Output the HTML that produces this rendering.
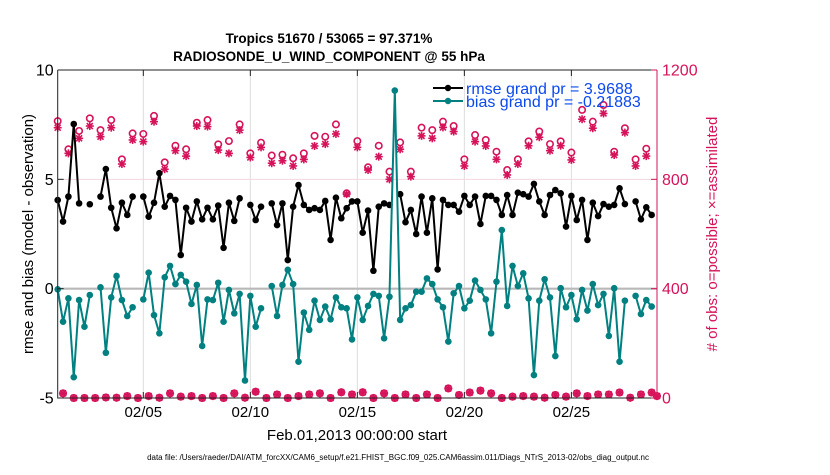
<!DOCTYPE html>
<html><head><meta charset="utf-8"><style>
body{margin:0;background:#fff;}
svg text{font-family:"Liberation Sans",Arial,sans-serif;}
</style></head><body>
<svg id="chart" width="830" height="470" viewBox="0 0 830 470" xmlns="http://www.w3.org/2000/svg">
<g id="grid"></g>
<g id="marks"></g>
<g id="axes"></g>
<text x="329" y="43" text-anchor="middle" font-size="13.5" font-weight="bold">Tropics 51670 / 53065 = 97.371%</text>
<text x="329" y="61" text-anchor="middle" font-size="13.5" font-weight="bold">RADIOSONDE_U_WIND_COMPONENT @ 55 hPa</text>
<text transform="translate(33,234) rotate(-90)" text-anchor="middle" font-size="15">rmse and bias (model - observation)</text>
<text transform="translate(717,234) rotate(-90)" text-anchor="middle" font-size="15" fill="#d6135a"># of obs: o=possible; ×=assimilated</text>
<text x="357" y="440" text-anchor="middle" font-size="15">Feb.01,2013 00:00:00 start</text>
<text x="398" y="460" text-anchor="middle" font-size="8">data file: /Users/raeder/DAI/ATM_forcXX/CAM6_setup/f.e21.FHIST_BGC.f09_025.CAM6assim.011/Diags_NTrS_2013-02/obs_diag_output.nc</text>
<g>
<line x1="433" y1="88" x2="463" y2="88" stroke="#000" stroke-width="2"/>
<circle cx="448" cy="88" r="3.2" fill="#000"/>
<text x="466" y="94" font-size="16" fill="#0a48f0">rmse grand pr = 3.9688</text>
<line x1="433" y1="101" x2="463" y2="101" stroke="#008080" stroke-width="2"/>
<circle cx="448" cy="101" r="3.2" fill="#008080"/>
<text x="466" y="107" font-size="16" fill="#0a48f0">bias grand pr = -0.21883</text>
</g>
</svg>
<script>
const rmse = [4.05,3.07,4.21,7.53,3.90,null,3.86,null,4.21,5.47,3.70,2.76,3.93,3.37,4.21,null,4.21,3.29,3.93,5.28,3.75,4.24,4.06,1.54,3.70,3.07,3.99,3.17,3.70,3.17,3.80,1.87,3.93,3.10,4.13,null,3.83,3.14,
3.75,null,3.90,2.91,3.90,1.31,3.75,4.74,3.83,3.60,3.68,3.60,4.01,2.23,4.16,3.22,3.68,3.99,3.99,2.56,3.57,0.82,3.75,3.90,3.83,null,4.32,3.04,3.60,2.50,4.21,2.56,4.13,0.88,4.06,3.83,3.83,3.52,
4.24,3.83,4.21,2.96,4.24,4.24,4.06,3.37,4.28,3.37,4.39,4.32,4.21,4.79,3.99,3.37,4.28,4.51,4.36,2.84,4.24,3.14,4.06,2.23,3.93,3.32,3.87,3.75,3.83,4.59,3.87,null,3.99,3.17,3.72,3.37];
const bias = [-0.03,-1.51,-0.44,-4.05,-0.52,-1.74,-0.29,null,0.06,-2.93,-0.40,0.58,-0.52,-1.25,-0.85,null,-0.49,0.73,-1.21,-2.04,0.52,1.04,0.21,0.63,0.32,-0.70,0.17,-2.62,-0.49,-0.52,0.27,-1.51,-0.06,-1.13,-0.24,-4.20,-0.33,-1.74,
-0.90,null,0.12,-1.25,0.17,0.86,0.21,-3.34,-1.09,-1.88,-0.55,-1.43,-0.82,-1.40,-0.40,-0.85,-0.90,-2.32,-0.40,-1.43,-0.79,-0.24,-0.33,-2.27,-0.37,9.06,-1.43,-0.90,-0.75,-0.14,-0.14,0.47,0.21,-0.49,-0.85,-2.42,-0.21,0.12,
-0.90,-0.55,0.37,-0.06,-0.49,-2.04,0.32,2.68,-0.79,1.04,0.12,0.70,-0.44,-3.95,-0.55,0.43,-0.40,-3.08,0.02,-0.85,-0.29,-1.40,-0.06,-1.00,0.21,-0.75,-0.24,-2.16,0.02,-3.34,-0.55,null,-0.33,-1.16,-0.52,-0.82];
const possible = [1013,17,910,0,977,0,1023,0,980,2,1017,1,873,7,968,0,966,7,1032,1,862,17,923,5,910,7,1007,0,1017,7,928,0,940,17,1001,1,895,23,934,0,887,13,890,0,877,7,895,13,959,17,956,0,1001,21,749,13,940,21,844,0,923,17,828,0,935,13,828,0,989,13,980,0,1011,35,995,11,873,20,962,27,944,17,901,0,834,5,873,7,939,5,975,1,929,11,939,5,898,17,1054,7,1011,13,1072,13,901,20,987,1,873,13,912,20,7];
const assimilated = [989,17,895,0,950,0,995,0,956,2,989,1,856,7,944,0,938,7,1011,1,837,17,905,5,885,7,995,0,993,7,907,0,895,17,980,1,880,23,917,0,859,13,868,0,849,7,873,13,922,17,929,0,966,21,746,13,917,21,834,0,883,17,800,0,910,13,810,0,959,13,950,0,990,35,975,11,849,20,938,27,922,17,873,0,816,5,856,7,923,5,954,1,905,11,923,5,871,17,1020,7,987,13,1041,13,889,20,971,1,849,13,885,20,7];
const leftTicks = [10,5,0,-5];
const rightTicks = [0,400,800,1200];
const dateTicks = [4,9,14,19,24];
const dateLabels = ["02/05","02/10","02/15","02/20","02/25"];
const obsPerDay = 4;

const NS="http://www.w3.org/2000/svg";
const X0=57.7, X1=657, Y0=70, Y1=398, DAYS=28;
const xd=d=>X0+d*(X1-X0)/DAYS;
const xi=i=>xd(i/obsPerDay);
const yl=v=>Y0+(10-v)*(Y1-Y0)/15;
const yr=c=>Y1-c*(Y1-Y0)/1200;
const CR="#d6135a", TE="#008080";
function mk(tag,attrs,parent){const e=document.createElementNS(NS,tag);for(const k in attrs)e.setAttribute(k,attrs[k]);parent.appendChild(e);return e;}
const grid=document.getElementById('grid'), marks=document.getElementById('marks'), axes=document.getElementById('axes');

dateTicks.forEach((d,k)=>{const l=mk('line',{x1:xd(d),x2:xd(d),y1:Y0,y2:Y1,stroke:'#ddd','stroke-width':1},grid);

});
rightTicks.forEach(c=>{if(c>0&&c<1200){const l=mk('line',{x1:X0,x2:X1,y1:yr(c),y2:yr(c),stroke:'#f2d6e0','stroke-width':1},grid);

}});
const zl=mk('line',{x1:X0,x2:X1,y1:yl(0),y2:yl(0),stroke:'#b8b8b8','stroke-width':2.2},grid);



function drawSeries(arr,color,name){
  let segs=[],cur=[];
  arr.forEach((v,i)=>{if(v===null){if(cur.length)segs.push(cur);cur=[];}else cur.push([xi(i),yl(v)]);});
  if(cur.length)segs.push(cur);
  segs.forEach(s=>{if(s.length>1){const p=mk('polyline',{points:s.map(q=>q.join(',')).join(' '),fill:'none',stroke:color,'stroke-width':2,'stroke-linejoin':'round'},marks);
  
  }});
  arr.forEach((v,i)=>{if(v!==null){const c=mk('circle',{cx:xi(i),cy:yl(v),r:3.3,fill:color},marks);
  
  }});
}
function star(x,y){const g=mk('g',{stroke:CR,'stroke-width':1.6},marks);


const s=4;mk('line',{x1:x-s,x2:x+s,y1:y,y2:y},g);mk('line',{x1:x,x2:x,y1:y-s,y2:y+s},g);
mk('line',{x1:x-3,x2:x+3,y1:y-3,y2:y+3},g);mk('line',{x1:x-3,x2:x+3,y1:y+3,y2:y-3},g);}
possible.forEach((c,i)=>{const o=mk('circle',{cx:xi(i),cy:yr(c),r:3.2,fill:'none',stroke:CR,'stroke-width':1.6},marks);

});
assimilated.forEach((c,i)=>star(xi(i),yr(c)));
drawSeries(rmse,'#000','rmse');
drawSeries(bias,TE,'bias');

const lb=mk('path',{d:`M${X0},${Y0}H${X1} M${X0},${Y0}V${Y1}H${X1}`,fill:'none',stroke:'#222','stroke-width':1},axes);


const ra=mk('line',{x1:X1,x2:X1,y1:Y0,y2:Y1,stroke:CR,'stroke-width':1},axes);


leftTicks.forEach(v=>{mk('line',{x1:X0,x2:X0+6,y1:yl(v),y2:yl(v),stroke:'#222'},axes);
const t=mk('text',{x:X0-4,y:yl(v)+5.5,'text-anchor':'end','font-size':16},axes);t.textContent=v;

});
rightTicks.forEach(c=>{mk('line',{x1:X1-6,x2:X1,y1:yr(c),y2:yr(c),stroke:CR},axes);
const t=mk('text',{x:X1+5,y:yr(c)+5.5,'font-size':16,fill:CR},axes);t.textContent=c;

});
dateTicks.forEach((d,k)=>{mk('line',{x1:xd(d),x2:xd(d),y1:Y1,y2:Y1-6,stroke:'#222'},axes);mk('line',{x1:xd(d),x2:xd(d),y1:Y0,y2:Y0+6,stroke:'#222'},axes);
const t=mk('text',{x:xd(d),y:Y1+19,'text-anchor':'middle','font-size':15},axes);t.textContent=dateLabels[k];

});
</script>
</body></html>
